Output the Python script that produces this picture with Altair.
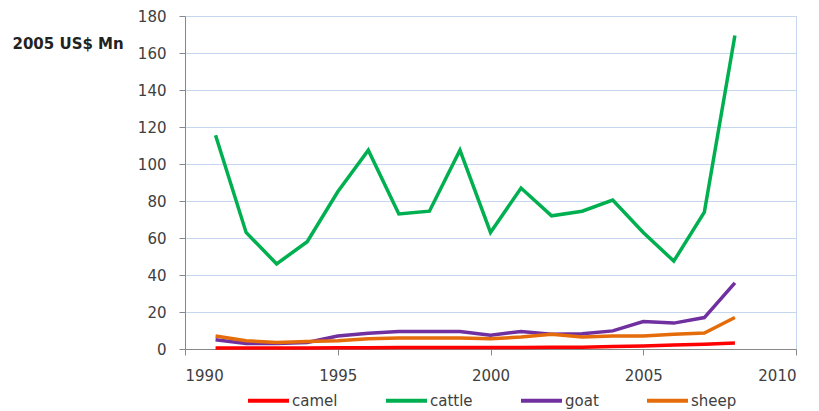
import altair as alt
import pandas as pd

years = list(range(1991, 2009))
camel = [0.5, 0.5, 0.5, 0.6, 0.7, 0.7, 0.8, 0.8, 0.8, 0.8, 0.8, 0.9, 1.0, 1.3, 1.6, 2.2, 2.6, 3.2]
cattle = [115.5, 63, 46, 58, 85, 107.5, 73, 74.5, 107.5, 63, 87, 72, 74.5, 80.5, 63, 47.5, 74, 169.5]
goat = [5, 3, 3, 3.5, 7, 8.5, 9.5, 9.5, 9.5, 7.5, 9.5, 8, 8.2, 9.8, 14.8, 14, 17, 35.7]
sheep = [7, 4.5, 3.5, 4, 4.5, 5.5, 6, 6, 6, 5.5, 6.5, 8, 6.5, 7, 7, 8, 8.6, 17]

series = {"camel": camel, "cattle": cattle, "goat": goat, "sheep": sheep}
rows = []
for name, vals in series.items():
    for y, v in zip(years, vals):
        rows.append({"year": y, "value": v, "species": name})
df = pd.DataFrame(rows)

colors = ["#ff0000", "#00b050", "#7030a0", "#e46c0a"]
FONT = "DejaVu Sans"

chart = alt.Chart(df).mark_line(strokeWidth=3.5).encode(
    x=alt.X("year:Q", scale=alt.Scale(domain=[1990, 2010], nice=False),
            axis=alt.Axis(values=[1990, 1995, 2000, 2005, 2010], format="d", grid=False,
                          title=None, tickSize=6, labelPadding=13, labelFontSize=15,
                          labelColor="#404040", domainColor="#888888", tickColor="#888888",
                          labelFont=FONT)),
    y=alt.Y("value:Q", scale=alt.Scale(domain=[0, 180], nice=False),
            axis=alt.Axis(values=list(range(0, 181, 20)), grid=True, gridColor="#c6d6ee",
                          gridWidth=1.2, tickSize=6, labelPadding=13, labelFontSize=15,
                          labelColor="#404040", domainColor="#888888", tickColor="#888888",
                          labelFont=FONT,
                          title="2005 US$ Mn", titleAngle=0, titleAlign="left",
                          titleBaseline="middle", titleX=-173, titleY=27,
                          titleFontSize=15, titleFont=FONT, titleFontWeight="bold",
                          titleColor="#222222")),
    color=alt.Color("species:N", scale=alt.Scale(domain=list(series.keys()), range=colors),
                    legend=alt.Legend(title=None, orient="none", direction="horizontal",
                                      legendX=61, legendY=362, symbolType="stroke",
                                      symbolSize=1681, symbolStrokeWidth=4,
                                      labelFontSize=15, labelFont=FONT, labelColor="#404040",
                                      labelExpr="datum.label == 'goat' ? 'goat\u00a0\u00a0\u00a0' : datum.label",
                                      columnPadding=40, labelOffset=1, columns=4)),
).properties(
    width=611, height=333,
    padding={"left": 177, "top": 8, "right": 15, "bottom": 62},
    autosize=alt.AutoSizeParams(type="none"),
).configure_view(stroke="#c6d6ee", strokeWidth=1)

chart.save("out.html", embed_options={"renderer": "svg", "actions": False})
